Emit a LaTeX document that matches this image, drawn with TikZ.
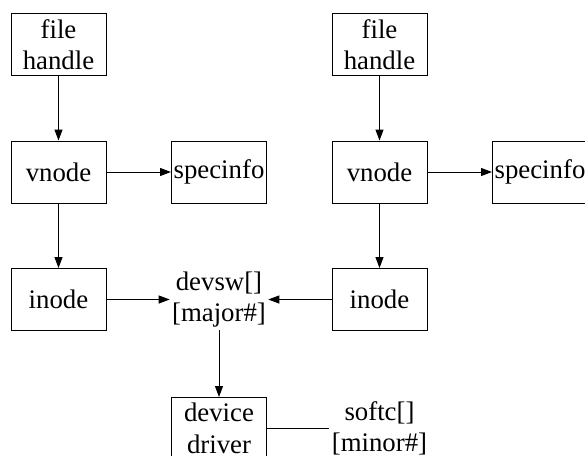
\documentclass[tikz,border=0pt]{standalone}
\usepackage{fontspec}
\setmainfont{Liberation Serif}
\usetikzlibrary{positioning,arrows.meta}

\begin{document}
\begin{tikzpicture}[
  node distance=32.25pt and 32.25pt,
  font=\fontsize{13.4pt}{15.8pt}\selectfont,
  box/.style={draw, line width=0.5pt, align=center, minimum width=47.5pt, minimum height=31pt, inner sep=1pt},
  lbl/.style={align=center, inner sep=1pt},
  flow/.style={-{Triangle[length=5.5pt,width=4pt]}, line width=0.5pt}
]
\useasboundingbox (0,0) rectangle (292.5pt,-228pt);
\node[box] (fh1) at (29.25pt,-22.25pt) {file\\handle};
\node[box, below=of fh1] (vn1) {vnode};
\node[box, right=of vn1] (sp1) {specinfo};
\node[box, right=of sp1] (vn2) {vnode};
\node[box, above=of vn2] (fh2) {file\\handle};
\node[box, right=of vn2] (sp2) {specinfo};
\node[box, below=of vn1] (in1) {inode};
\node[box, below=of vn2] (in2) {inode};
\node[lbl] (dev) at (sp1 |- in1) {devsw[]\\{[major\#]}};
\node[box, yshift=-64.5pt] (drv) at (sp1 |- in1) {device\\driver};
\node[lbl] (soft) at (in2 |- drv) {softc[]\\{[minor\#]}};

\draw[flow] (fh1) -- (vn1);
\draw[flow] (vn1) -- (sp1);
\draw[flow] (vn1) -- (in1);
\draw[flow] (fh2) -- (vn2);
\draw[flow] (vn2) -- (sp2);
\draw[flow] (vn2) -- (in2);
\draw[flow] (in1) -- (dev);
\draw[flow] (in2) -- (dev);
\draw[flow] (dev) -- (drv);
\draw[line width=0.5pt] (drv) -- (soft);
\end{tikzpicture}
\end{document}
